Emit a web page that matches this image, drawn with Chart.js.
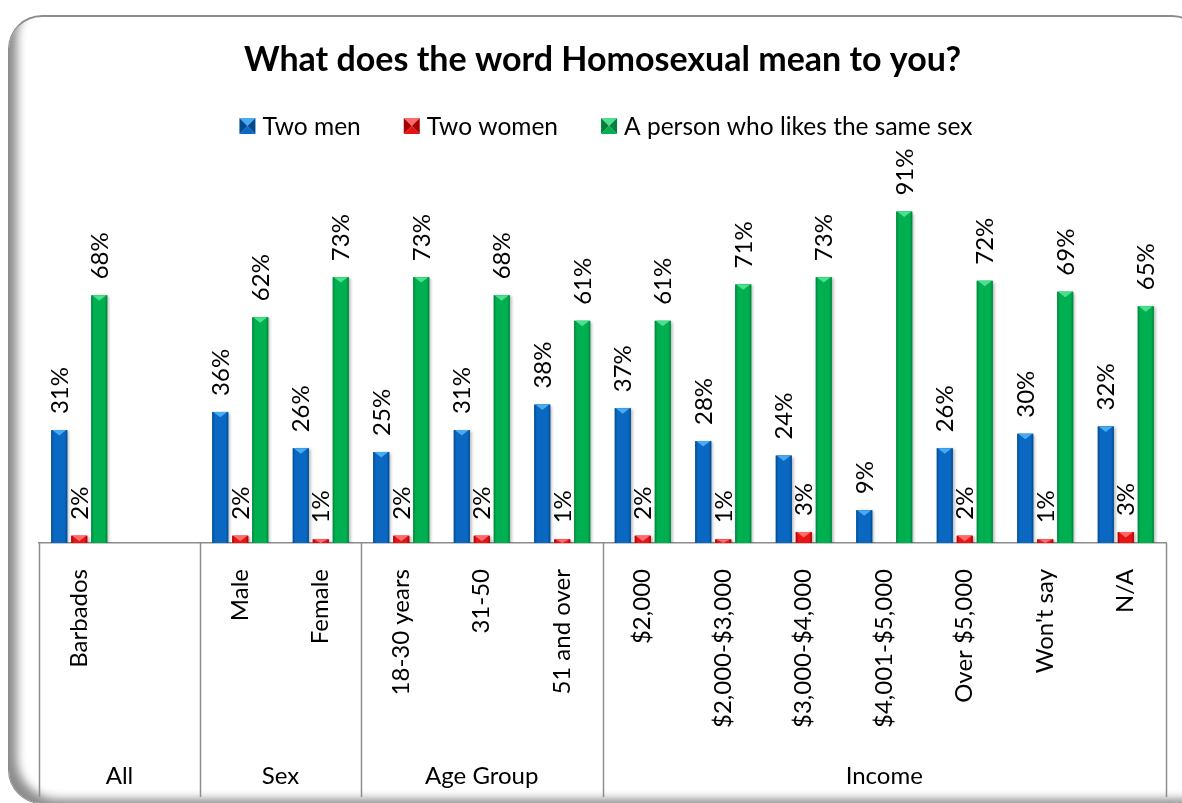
<!DOCTYPE html>
<html lang="en">
<head>
<meta charset="UTF-8">
<title>What does the word Homosexual mean to you?</title>
<script src="https://cdn.jsdelivr.net/npm/chart.js@4.4.0/dist/chart.umd.min.js"></script>
<style>
    html, body { margin: 0; padding: 0; background: #fff; overflow: hidden; }
    .moldura {
        position: absolute; left: 8px; top: 15px; width: 1196px; height: 786px;
        border-radius: 34px; border: 1px solid #8c8c8c; border-top-width: 2px;
        box-shadow: inset 16px -12px 10px -8px rgba(0, 0, 0, 0.45);
    }
    .caixa { position: absolute; left: 0; top: 0; width: 1182px; height: 803px; }
</style>
</head>
<body>
<div class="moldura"></div>
<div class="caixa"><canvas id="grafico"></canvas></div>

<script>
    // categories (the blank one keeps the "All" group two slots wide)
    const categories = ['Barbados', '', 'Male', 'Female', '18-30 years', '31-50', '51 and over',
        '$2,000', '$2,000-$3,000', '$3,000-$4,000', '$4,001-$5,000', 'Over $5,000', "Won't say", 'N/A'];
    const groups = ['All', 'Sex', 'Age Group', 'Income'];
    const groupSizes = [2, 2, 3, 7];

    // percentages per series
    const twoMen = [31, null, 36, 26, 25, 31, 38, 37, 28, 24, 9, 26, 30, 32];
    const twoWomen = [2, null, 2, 1, 2, 2, 1, 2, 1, 3, null, 2, 1, 3];
    const sameSex = [68, null, 62, 73, 73, 68, 61, 61, 71, 73, 91, 72, 69, 65];

    const FONTE = 'Lato, Carlito, Calibri, sans-serif';

    // base / dark edge / light top bevel
    const cores = [
        { base: '#0a68c2', escuro: '#004a8e', claro: '#48aaf0' },
        { base: '#e81414', escuro: '#a80000', claro: '#ff6a6a' },
        { base: '#00b050', escuro: '#00823a', claro: '#4ce08c' }
    ];

    // bevel, shadow and % labels on every bar
    const barrasBisel = {
        id: 'barrasBisel',
        beforeDatasetsDraw(chart) {
            const ctx = chart.ctx;
            ctx.save();
            ctx.shadowColor = 'rgba(0,0,0,0.30)';
            ctx.shadowBlur = 3;
            ctx.shadowOffsetX = 2;
            ctx.shadowOffsetY = 1;
        },
        afterDatasetsDraw(chart) {
            const ctx = chart.ctx;
            ctx.restore();
            ctx.save();
            chart.data.datasets.forEach(function (ds, i) {
                const cor = cores[i];
                chart.getDatasetMeta(i).data.forEach(function (bar, j) {
                    if (ds.data[j] === null) return;
                    const esq = bar.x - bar.width / 2;
                    const dir = bar.x + bar.width / 2;
                    const topo = bar.y;
                    const alt = bar.base - bar.y;
                    const grad = ctx.createLinearGradient(esq, 0, dir, 0);
                    grad.addColorStop(0, cor.escuro);
                    grad.addColorStop(0.16, cor.base);
                    grad.addColorStop(0.5, cor.base);
                    grad.addColorStop(0.84, cor.base);
                    grad.addColorStop(1, cor.escuro);
                    ctx.fillStyle = grad;
                    ctx.fillRect(esq, topo, bar.width, alt);
                    const th = Math.min(alt, bar.width * 0.34);
                    ctx.fillStyle = cor.claro;
                    ctx.beginPath();
                    ctx.moveTo(esq + 1, topo);
                    ctx.lineTo(dir - 1, topo);
                    ctx.lineTo(bar.x, topo + th);
                    ctx.closePath();
                    ctx.fill();
                });
            });

            ctx.font = '24px ' + FONTE;
            ctx.fillStyle = '#000';
            ctx.textAlign = 'left';
            ctx.textBaseline = 'middle';
            chart.data.datasets.forEach(function (ds, i) {
                chart.getDatasetMeta(i).data.forEach(function (bar, j) {
                    const v = ds.data[j];
                    if (v === null) return;
                    ctx.save();
                    ctx.translate(bar.x + 1, bar.y - 16);
                    ctx.rotate(-Math.PI / 2);
                    ctx.fillText(v + '%', 0, 0);
                    ctx.restore();
                });
            });
            ctx.restore();
        }
    };

    // legend squares, group row and the axis separators
    function quadrado(ctx, x, y, s, cor) {
        const c = [x + s / 2, y + s / 2];
        const faces = [
            [[x, y], [x + s, y], cor.claro],
            [[x, y + s], [x + s, y + s], cor.base],
            [[x, y], [x, y + s], cor.escuro],
            [[x + s, y], [x + s, y + s], cor.escuro]
        ];
        faces.forEach(function (f) {
            ctx.fillStyle = f[2];
            ctx.beginPath();
            ctx.moveTo(f[0][0], f[0][1]);
            ctx.lineTo(f[1][0], f[1][1]);
            ctx.lineTo(c[0], c[1]);
            ctx.closePath();
            ctx.fill();
        });
    }

    const moldesEixo = {
        id: 'moldesEixo',
        afterDraw(chart) {
            const ctx = chart.ctx;
            const x = chart.scales.x;
            const area = chart.chartArea;
            ctx.save();

            // legend
            ctx.font = '24.5px ' + FONTE;
            ctx.textBaseline = 'middle';
            ctx.textAlign = 'left';
            const itens = chart.data.datasets.map(function (ds) { return ds.label; });
            const larg = itens.map(function (t) { return ctx.measureText(t).width; });
            let total = 0;
            larg.forEach(function (w, i) { total += 16 + 7 + w + (i < larg.length - 1 ? 43 : 0); });
            let px = 606 - total / 2;
            itens.forEach(function (t, i) {
                quadrado(ctx, px, 118, 16, cores[i]);
                ctx.fillStyle = '#000';
                ctx.fillText(t, px + 23, 127);
                px += 16 + 7 + larg[i] + 43;
            });

            // group separators and names
            ctx.font = '24px ' + FONTE;
            ctx.strokeStyle = '#8c8c8c';
            ctx.lineWidth = 1.5;
            ctx.textAlign = 'center';
            let inicio = 0;
            const linhas = [x.getPixelForValue(-0.5)];
            groupSizes.forEach(function (n, g) {
                const a = x.getPixelForValue(inicio - 0.5);
                const b = x.getPixelForValue(inicio + n - 0.5);
                ctx.fillStyle = '#000';
                ctx.fillText(groups[g], (a + b) / 2, 776);
                linhas.push(b);
                inicio += n;
            });
            linhas.forEach(function (lx) {
                ctx.beginPath();
                ctx.moveTo(Math.round(lx) + 0.5, area.bottom);
                ctx.lineTo(Math.round(lx) + 0.5, x.bottom);
                ctx.stroke();
            });
            ctx.restore();
        }
    };

    const dados = {
        labels: categories,
        datasets: [
            { label: 'Two men', data: twoMen, backgroundColor: cores[0].base },
            { label: 'Two women', data: twoWomen, backgroundColor: cores[1].base },
            { label: 'A person who likes the same sex', data: sameSex, backgroundColor: cores[2].base }
        ]
    };

    const config = {
        type: 'bar',
        data: dados,
        options: {
            responsive: true,
            maintainAspectRatio: false,
            animation: false,
            datasets: { bar: { categoryPercentage: 0.745, barPercentage: 0.8 } },
            layout: { padding: { left: 39, right: 16, top: 0, bottom: 6 } },
            plugins: {
                legend: { display: false },
                tooltip: { enabled: false },
                title: {
                    display: true,
                    text: 'What does the word Homosexual mean to you?',
                    color: '#000',
                    font: { family: FONTE, size: 34, weight: 'bold' },
                    padding: { top: 40, bottom: 98 }
                }
            },
            scales: {
                x: {
                    offset: true,
                    grid: { display: false, drawTicks: false },
                    border: { display: true, color: '#8c8c8c', width: 1.5 },
                    ticks: {
                        autoSkip: false, minRotation: 90, maxRotation: 90, padding: 26,
                        color: '#000', font: { family: FONTE, size: 24 }
                    },
                    afterFit(scale) { scale.height = 254; }
                },
                y: { display: false, min: 0, max: 100 }
            }
        },
        plugins: [barrasBisel, moldesEixo]
    };

    new Chart(document.getElementById('grafico'), config);
</script>
</body>
</html>
